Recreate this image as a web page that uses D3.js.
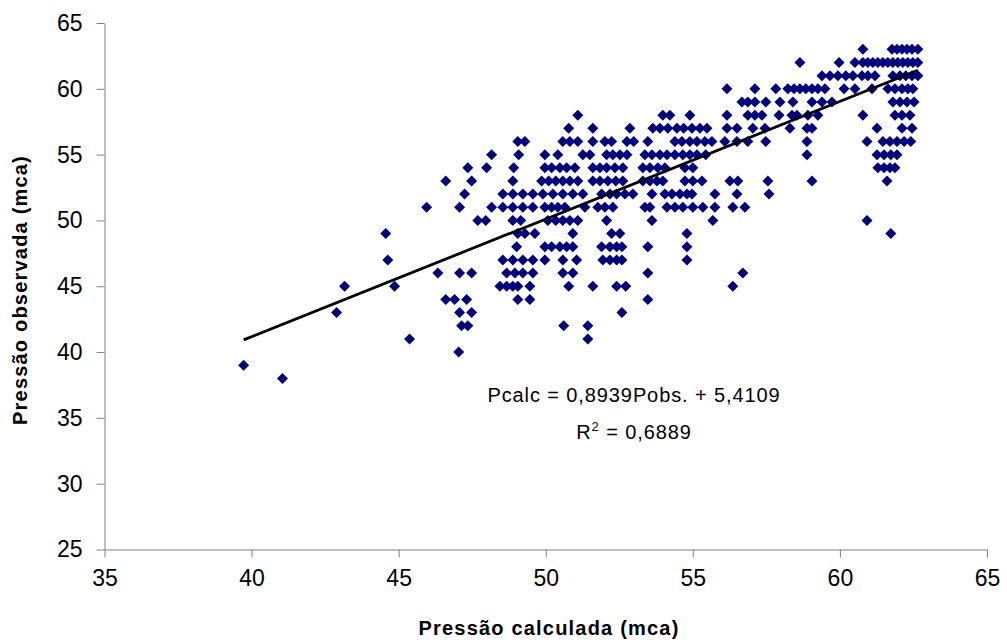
<!DOCTYPE html>
<html>
<head>
<meta charset="utf-8">
<script src="https://d3js.org/d3.v7.min.js"></script>
<style>
  body { margin: 0; background: #ffffff; }
  text { font-family: "Liberation Sans", Arial, sans-serif; fill: #000000; }
  .axis path, .axis line { stroke: #808080; stroke-width: 1px; }
  .axis-title { font-size: 20px; font-weight: bold; letter-spacing: 1.2px; }
  .eq { font-size: 20px; letter-spacing: 0.9px; }
</style>
</head>
<body>
<div id="chart"></div>
<script>
  // observed pressure levels (y) and the calculated pressures (x) read for each level
  const obsLevels = [63, 62, 61, 60, 59, 58, 57, 56, 55, 54, 53, 52, 51, 50, 49, 48, 47, 46, 45, 44, 43, 42, 41, 40, 39, 38];
  const calcByLevel = [
    [60.78, 61.77, 61.94, 62.11, 62.28, 62.45, 62.65],
    [58.64, 59.97, 60.51, 60.78, 60.95, 61.12, 61.29, 61.46, 61.63, 61.80, 61.97, 62.14, 62.31, 62.48, 62.65],
    [59.39, 59.66, 59.93, 60.20, 60.44, 60.75, 60.95, 61.19, 61.80, 62.04, 62.24, 62.45, 62.65],
    [56.16, 57.11, 57.82, 58.23, 58.44, 58.64, 58.84, 59.05, 59.25, 59.49, 60.14, 60.51, 61.09, 61.63, 61.87, 62.11, 62.31, 62.48],
    [56.67, 56.87, 57.11, 57.48, 57.96, 58.40, 59.05, 59.39, 59.73, 61.80, 62.04, 62.28, 62.52],
    [51.09, 53.98, 54.22, 54.90, 56.16, 56.87, 57.11, 57.35, 57.93, 58.37, 58.54, 58.91, 59.25, 60.78, 61.87, 62.11, 62.38],
    [50.78, 51.60, 52.86, 53.64, 53.88, 54.15, 54.46, 54.69, 54.97, 55.24, 55.48, 56.16, 56.50, 57.04, 57.45, 58.30, 58.88, 59.05, 61.26, 62.11, 62.45],
    [49.05, 49.29, 50.58, 50.82, 51.09, 51.60, 52.01, 52.24, 52.76, 52.99, 53.47, 54.39, 54.63, 54.90, 55.14, 55.41, 55.65, 56.09, 56.50, 56.87, 57.48, 58.88, 60.92, 61.46, 61.70, 61.94, 62.18, 62.41],
    [48.16, 49.08, 49.97, 50.41, 51.26, 51.50, 52.07, 52.28, 52.52, 52.76, 53.37, 53.61, 53.88, 54.12, 54.39, 54.66, 54.90, 55.14, 55.44, 58.88, 61.26, 61.50, 61.73, 61.94],
    [47.35, 47.99, 48.91, 49.97, 50.20, 50.48, 50.71, 50.99, 51.60, 51.84, 52.07, 52.35, 52.62, 53.30, 53.54, 53.81, 54.05, 54.73, 55.00, 61.29, 61.50, 61.70, 61.87],
    [46.60, 47.48, 48.88, 49.86, 50.10, 50.34, 50.58, 50.82, 51.09, 51.60, 51.84, 52.11, 52.38, 52.62, 53.30, 53.54, 53.78, 53.98, 54.73, 55.00, 55.31, 56.26, 56.53, 57.55, 59.05, 61.60],
    [47.24, 48.54, 48.88, 49.22, 49.56, 49.90, 50.24, 50.58, 50.92, 51.26, 51.90, 52.18, 52.41, 52.69, 52.96, 53.61, 54.05, 54.29, 54.56, 54.80, 54.97, 55.75, 56.50, 57.59],
    [45.95, 47.07, 48.16, 48.54, 48.88, 49.22, 49.56, 49.97, 50.20, 50.41, 50.65, 51.33, 51.77, 52.01, 52.28, 53.37, 53.54, 54.12, 54.39, 54.66, 55.00, 55.34, 55.75, 56.36, 56.77],
    [47.69, 47.96, 48.88, 49.15, 50.07, 50.34, 50.58, 50.82, 51.09, 52.07, 53.61, 55.68, 60.92],
    [44.56, 49.05, 49.29, 49.63, 50.92, 52.24, 52.52, 54.80, 61.73],
    [49.01, 49.97, 50.20, 50.48, 50.71, 50.92, 51.90, 52.18, 52.41, 52.59, 53.47, 54.80],
    [44.63, 48.54, 48.88, 49.22, 49.56, 49.97, 50.58, 51.05, 51.94, 52.18, 52.41, 52.59, 54.80],
    [46.33, 47.07, 47.48, 48.67, 48.95, 49.22, 49.56, 50.58, 50.92, 53.47, 56.70],
    [43.16, 44.86, 48.44, 48.67, 48.88, 49.05, 49.46, 50.78, 51.60, 52.41, 52.72, 56.36],
    [46.60, 46.90, 47.31, 49.05, 49.46, 53.47],
    [42.89, 47.07, 47.48, 52.59],
    [47.14, 47.35, 50.61, 51.43],
    [45.37, 51.43],
    [47.04],
    [39.73],
    [41.05]
  ];
  const xTicks = [35, 40, 45, 50, 55, 60, 65];
  const yTicks = [25, 30, 35, 40, 45, 50, 55, 60, 65];
  const slope = 0.8939;
  const intercept = 5.4109;
  const eqText = "Pcalc = 0,8939Pobs. + 5,4109";
  const r2Text = "0,6889";

  const points = [];
  obsLevels.forEach((obs, i) => {
    calcByLevel[i].forEach(c => points.push({ calc: c, obs: obs }));
  });

  const W = 1007, H = 642;
  const svg = d3.select("#chart").append("svg")
    .attr("width", W)
    .attr("height", H);

  const x = d3.scaleLinear().domain([35, 65]).range([104.5, 987]);
  const y = d3.scaleLinear().domain([25, 65]).range([549.5, 23]);

  // x axis
  svg.append("g")
    .attr("class", "axis")
    .attr("transform", "translate(0,549.5)")
    .call(d3.axisBottom(x).tickValues(xTicks).tickSize(8).tickSizeOuter(0).tickPadding(12))
    .call(g => g.selectAll("text").style("font-size", "23px"));

  // y axis
  svg.append("g")
    .attr("class", "axis")
    .attr("transform", "translate(104.5,0)")
    .call(d3.axisLeft(y).tickValues(yTicks).tickSize(8).tickSizeOuter(0).tickPadding(14))
    .call(g => g.selectAll("text").style("font-size", "23px"));

  // points (diamonds)
  const r = 5.5;
  const diamond = `M0,${-r}L${r},0L0,${r}L${-r},0Z`;
  svg.append("g")
    .selectAll("path")
    .data(points)
    .join("path")
    .attr("d", diamond)
    .attr("transform", d => `translate(${x(d.calc)},${y(d.obs)})`)
    .attr("fill", "#000080");

  // linear trend line
  const xExt = d3.extent(points, d => d.calc);
  svg.append("line")
    .attr("x1", x(xExt[0]))
    .attr("y1", y(slope * xExt[0] + intercept))
    .attr("x2", x(xExt[1]))
    .attr("y2", y(slope * xExt[1] + intercept))
    .attr("stroke", "#000000")
    .attr("stroke-width", 2.8);

  // equation
  svg.append("text")
    .attr("class", "eq")
    .attr("x", 634)
    .attr("y", 402)
    .attr("text-anchor", "middle")
    .text(eqText);

  const r2 = svg.append("text")
    .attr("class", "eq")
    .attr("x", 634)
    .attr("y", 439)
    .attr("text-anchor", "middle");
  r2.append("tspan").text("R");
  r2.append("tspan").attr("dy", -8).style("font-size", "13px").text("2");
  r2.append("tspan").attr("dy", 8).text(" = " + r2Text);

  // axis titles
  svg.append("text")
    .attr("class", "axis-title")
    .attr("x", 549)
    .attr("y", 635)
    .attr("text-anchor", "middle")
    .text("Pressão calculada (mca)");

  svg.append("text")
    .attr("class", "axis-title")
    .attr("transform", "translate(27,290) rotate(-90)")
    .attr("text-anchor", "middle")
    .text("Pressão observada (mca)");
</script>
</body>
</html>
